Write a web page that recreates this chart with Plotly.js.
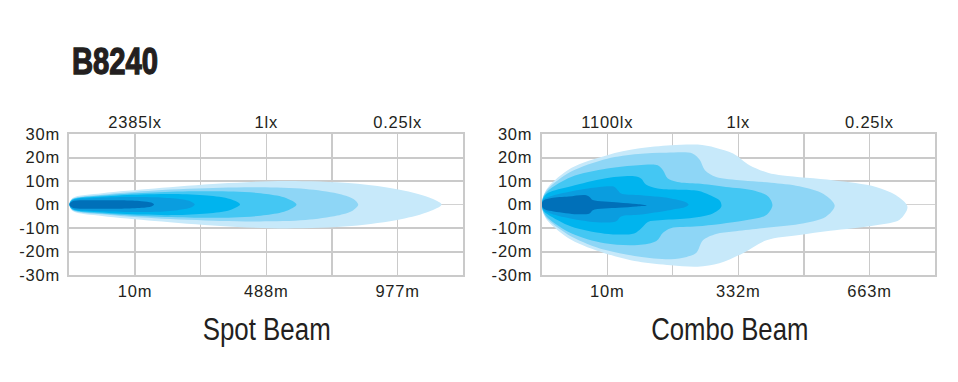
<!DOCTYPE html>
<html>
<head>
<meta charset="utf-8">
<script src="https://cdn.plot.ly/plotly-3.0.1.min.js"></script>
<style>
html,body{margin:0;padding:0;background:#fff;}
#chart{width:958px;height:382px;}
#chart g.xtick text, #chart g.x2tick text, #chart g.x3tick text, #chart g.x4tick text,
#chart g.ytick text, #chart g.y2tick text { letter-spacing: 0.8px; }
</style>
</head>
<body>
<div id="chart"></div>
<script>
// ---------- DATA ----------
const chartTitle = "B8240";
const panelTitles = ["Spot Beam", "Combo Beam"];
const yTickVals = [-30, -20, -10, 0, 10, 20, 30];
const yTickText = ["-30m", "-20m", "-10m", "0m", "10m", "20m", "30m"];
const xGridVals = [1, 2, 3, 4, 5];
const spotDistLabels = ["10m", "", "488m", "", "977m"];
const spotLuxLabels = ["2385lx", "", "1lx", "", "0.25lx"];
const comboDistLabels = ["10m", "", "332m", "", "663m"];
const comboLuxLabels = ["1100lx", "", "1lx", "", "0.25lx"];

const layerColors = ["#c7e9fa", "#8ed6f6", "#44c7f3", "#00b4ee", "#0a9ddf", "#0070b9"];

// Spot beam isolux outlines (x: grid units, y: metres)
const spotL1x = [0, 0.05, 0.5, 1.3, 2.3, 3.3, 4.3, 5.05, 5.48, 5.67, 5.48, 5.05, 4.3, 3.3, 2.3, 1.3, 0.5, 0.05, 0];
const spotL1y = [0, 2.8, 4.8, 6.8, 8.9, 10.0, 9.0, 6.2, 3.0, 0, -3.0, -6.3, -9.2, -10.2, -9.1, -7.0, -4.9, -2.8, 0];
const spotL2x = [0, 0.05, 0.5, 1.3, 2.3, 2.9, 3.6, 4.08, 4.32, 4.40, 4.32, 4.08, 3.6, 2.9, 2.3, 1.3, 0.5, 0.05, 0];
const spotL2y = [0, 2.4, 4.2, 6.0, 7.1, 7.3, 6.6, 4.7, 2.5, 0, -2.5, -4.7, -6.6, -7.2, -7.0, -5.9, -4.2, -2.4, 0];
const spotL3x = [0, 0.05, 0.5, 1.2, 1.9, 2.5, 3.0, 3.3, 3.46, 3.3, 3.0, 2.5, 1.9, 1.2, 0.5, 0.05, 0];
const spotL3y = [0, 2.2, 3.8, 5.0, 5.6, 5.5, 4.5, 2.8, 0, -2.8, -4.5, -5.5, -5.6, -5.0, -3.8, -2.2, 0];
const spotL4x = [0, 0.05, 0.5, 1.1, 1.6, 2.1, 2.45, 2.6, 2.45, 2.1, 1.6, 1.1, 0.5, 0.05, 0];
const spotL4y = [0, 2.0, 3.4, 4.3, 4.5, 3.8, 2.3, 0, -2.3, -3.8, -4.5, -4.3, -3.4, -2.0, 0];
const spotL5x = [0, 0.05, 0.4, 0.9, 1.3, 1.65, 1.85, 1.91, 1.85, 1.65, 1.3, 0.9, 0.4, 0.05, 0];
const spotL5y = [0, 1.8, 2.8, 3.2, 3.1, 2.4, 1.3, 0, -1.3, -2.4, -3.1, -3.2, -2.8, -1.8, 0];
const spotL6x = [0, 0.05, 0.4, 0.8, 1.1, 1.25, 1.29, 1.25, 1.1, 0.8, 0.4, 0.05, 0];
const spotL6y = [0, 1.4, 1.8, 1.8, 1.4, 0.8, 0, -0.8, -1.4, -1.8, -1.8, -1.4, 0];

// Combo beam isolux outlines
const comboL1x = [0, 0.03, 0.1, 0.45, 1.0, 1.47, 1.97, 2.38, 2.65, 2.92, 3.17, 3.45, 3.68, 4.44, 5.1, 5.4, 5.58, 5.46, 5.1, 4.4, 3.93, 3.43, 3.07, 2.71, 2.38, 1.97, 1.47, 0.96, 0.45, 0.1, 0.03, 0];
const comboL1y = [0, 4, 7.5, 15.5, 21, 23.8, 25.2, 25.5, 24.2, 21.7, 16.7, 13.5, 12.3, 10.3, 7.5, 4, -1.0, -6.5, -8.8, -11.2, -13, -15.2, -20.7, -25, -26.5, -25.9, -24.3, -20.7, -15, -7.2, -4, 0];
const comboL2x = [0, 0.03, 0.1, 0.45, 1.0, 1.47, 1.9, 2.3, 2.41, 2.49, 2.66, 3.07, 3.5, 3.93, 4.3, 4.47, 4.33, 3.93, 3.32, 2.92, 2.66, 2.46, 2.36, 2.21, 1.97, 1.47, 0.96, 0.45, 0.1, 0.03, 0];
const comboL2y = [0, 3.8, 6.8, 14, 19.5, 21.5, 22, 21.7, 19, 14.6, 11.7, 10.2, 9.3, 7.8, 4.5, -0.5, -5.3, -8.3, -10.2, -11.5, -12.5, -15.2, -20.5, -22.3, -23.3, -22.1, -19.3, -13.6, -6.5, -3.8, 0];
const comboL3x = [0, 0.03, 0.1, 0.45, 1.0, 1.47, 1.77, 1.85, 1.92, 2.07, 2.38, 2.81, 3.22, 3.45, 3.52, 3.42, 3.07, 2.38, 1.97, 1.85, 1.75, 1.47, 0.96, 0.45, 0.1, 0.03, 0];
const comboL3y = [0, 3.5, 6, 11.7, 15.3, 16.7, 16.7, 14.6, 11.2, 9.6, 8.9, 7.5, 6.1, 3.5, -0.3, -4.6, -6.9, -9.3, -10.1, -12, -15.5, -17.2, -16.5, -12.2, -5.8, -3.3, 0];
const comboL4x = [0, 0.03, 0.1, 0.45, 0.96, 1.41, 1.52, 1.59, 1.77, 2.38, 2.56, 2.72, 2.74, 2.61, 2.21, 1.8, 1.62, 1.52, 1.41, 0.96, 0.45, 0.1, 0.03, 0];
const comboL4y = [0, 3, 5, 7.8, 11.1, 12, 11, 8.5, 6.8, 5.8, 4, 1.5, -1, -3.8, -6, -6.7, -7.4, -10.1, -12.3, -12.4, -9.4, -4.4, -2.8, 0];
const comboL5x = [0, 0.03, 0.2, 0.71, 1.11, 1.16, 1.21, 1.47, 1.97, 2.2, 2.24, 2.2, 1.97, 1.47, 1.21, 1.13, 0.71, 0.2, 0.03, 0];
const comboL5y = [0, 2.2, 4, 6.8, 7.5, 6.1, 4.7, 4, 2.6, 1, 0, -1.0, -2.3, -4.4, -5.1, -7.2, -7.2, -4.4, -2.2, 0];
const comboL6x = [0, 0.03, 0.15, 0.41, 0.66, 0.73, 0.78, 1.17, 1.45, 1.6, 1.45, 1.17, 0.78, 0.73, 0.5, 0.15, 0.03, 0];
const comboL6y = [0, 1.8, 2.8, 3.4, 4, 3.2, 1.9, 0.9, 0.2, -0.4, -0.8, -1.4, -2.4, -3.8, -4.1, -2.8, -1.8, 0];

// ---------- BUILD ----------
const spotLayers = [[spotL1x, spotL1y], [spotL2x, spotL2y], [spotL3x, spotL3y], [spotL4x, spotL4y], [spotL5x, spotL5y], [spotL6x, spotL6y]];
const comboLayers = [[comboL1x, comboL1y], [comboL2x, comboL2y], [comboL3x, comboL3y], [comboL4x, comboL4y], [comboL5x, comboL5y], [comboL6x, comboL6y]];

const traces = [];
function addLayers(layers, xa, ya) {
  layers.forEach((l, i) => {
    traces.push({
      type: 'scatter', mode: 'lines', x: l[0], y: l[1], xaxis: xa, yaxis: ya,
      fill: 'toself', fillcolor: layerColors[i],
      line: {width: 0, shape: 'spline', smoothing: 0.9, color: layerColors[i]},
      hoverinfo: 'skip', showlegend: false
    });
  });
}
addLayers(spotLayers, 'x', 'y');
addLayers(comboLayers, 'x2', 'y2');
traces.push({type: 'scatter', mode: 'markers', x: [0], y: [0], xaxis: 'x3', yaxis: 'y', marker: {opacity: 0}, hoverinfo: 'skip', showlegend: false});
traces.push({type: 'scatter', mode: 'markers', x: [0], y: [0], xaxis: 'x4', yaxis: 'y2', marker: {opacity: 0}, hoverinfo: 'skip', showlegend: false});

const W = 958, H = 382;
const gridCol = '#cacaca';
const tickFont = {family: 'Liberation Sans, Arial, sans-serif', size: 16.5, color: '#231f20'};
const yDom = [(H - 275) / H, (H - 134) / H];
const leftDom = [69.3 / W, 463.3 / W];
const rightDom = [541.7 / W, 935 / W];

function xAxis(domain, anchor, labels) {
  return {
    domain: domain, anchor: anchor, range: [0, 6], fixedrange: true,
    tickmode: 'array', tickvals: xGridVals, ticktext: labels,
    ticks: '', ticklabelstandoff: 0, tickfont: tickFont,
    showgrid: true, gridcolor: gridCol, gridwidth: 1.3,
    showline: true, linecolor: gridCol, linewidth: 2, mirror: true,
    zeroline: false
  };
}
function xTopAxis(overlay, anchor, labels) {
  return {
    overlaying: overlay, anchor: anchor, side: 'top', range: [0, 6], fixedrange: true,
    tickmode: 'array', tickvals: xGridVals, ticktext: labels,
    ticks: '', ticklabelstandoff: 2, tickfont: tickFont,
    showgrid: false, showline: false, zeroline: false
  };
}
function yAxis(anchor) {
  return {
    domain: yDom, anchor: anchor, range: [-30, 30], fixedrange: true,
    tickmode: 'array', tickvals: yTickVals, ticktext: yTickText,
    ticks: '', ticklabelstandoff: 4, tickfont: tickFont,
    showgrid: true, gridcolor: gridCol, gridwidth: 2,
    zeroline: true, zerolinecolor: '#d2d2d2', zerolinewidth: 1,
    showline: true, linecolor: gridCol, linewidth: 2, mirror: true
  };
}

const titleFont = 'Liberation Sans, Arial, sans-serif';
const layout = {
  width: W, height: H,
  margin: {l: 0, r: 0, t: 0, b: 0},
  paper_bgcolor: '#ffffff', plot_bgcolor: '#ffffff',
  showlegend: false, hovermode: false,
  xaxis: xAxis(leftDom, 'y', spotDistLabels),
  yaxis: yAxis('x'),
  xaxis2: xAxis(rightDom, 'y2', comboDistLabels),
  yaxis2: yAxis('x2'),
  xaxis3: xTopAxis('x', 'y', spotLuxLabels),
  xaxis4: xTopAxis('x2', 'y2', comboLuxLabels),
  annotations: [
    {text: '<b>' + chartTitle + '</b>', xref: 'paper', yref: 'paper', x: 70 / W, y: 1 - 61 / H,
     xanchor: 'left', yanchor: 'middle', showarrow: false,
     font: {family: titleFont, size: 37, color: '#231f20'}},
    {text: panelTitles[0], xref: 'paper', yref: 'paper', x: 266 / W, y: 1 - 329 / H,
     xanchor: 'center', yanchor: 'middle', showarrow: false,
     font: {family: titleFont, size: 31, color: '#231f20'}},
    {text: panelTitles[1], xref: 'paper', yref: 'paper', x: 729.5 / W, y: 1 - 329 / H,
     xanchor: 'center', yanchor: 'middle', showarrow: false,
     font: {family: titleFont, size: 31, color: '#231f20'}}
  ]
};

// horizontal condensing of the title texts (the reference uses narrow typefaces)
const condense = [0.79, 0.835, 0.83];

Plotly.newPlot('chart', traces, layout, {displayModeBar: false, staticPlot: true}).then(() => {
  const texts = document.querySelectorAll('#chart .annotation-text');
  texts.forEach((t, i) => {
    const s = condense[i];
    if (!s) return;
    const bb = t.getBBox();
    const ax = (i === 0) ? bb.x : bb.x + bb.width / 2;
    t.setAttribute('transform', `translate(${ax},0) scale(${s},1) translate(${-ax},0)`);
    if (i === 0) {
      t.style.stroke = '#231f20';
      t.style.strokeWidth = '1.3px';
    }
  });
});
</script>
</body>
</html>
